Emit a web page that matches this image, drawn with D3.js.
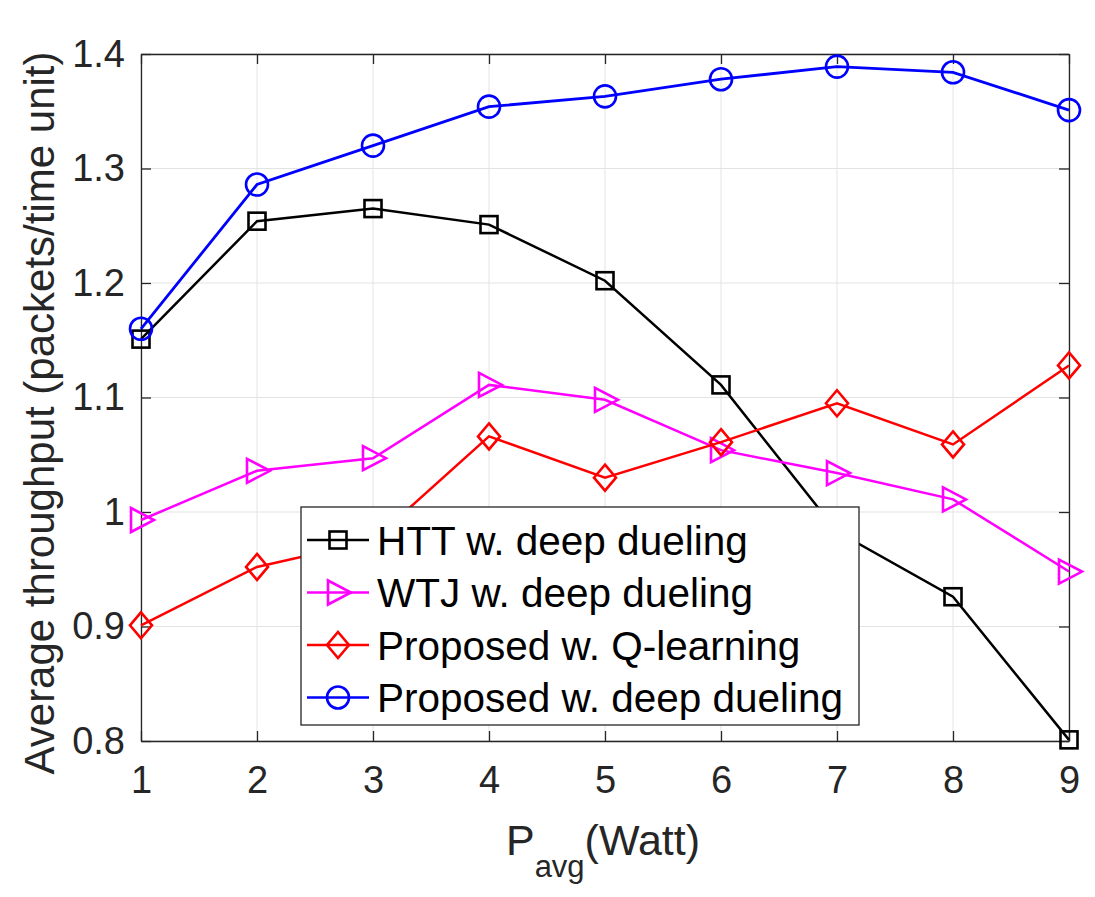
<!DOCTYPE html>
<html>
<head>
<meta charset="utf-8">
<script src="https://cdn.jsdelivr.net/npm/d3@7"></script>
<style>
body { margin: 0; background: #fff; }
text { font-family: "Liberation Sans", Arial, Helvetica, sans-serif; }
</style>
</head>
<body>
<script>
var pAvg = [1, 2, 3, 4, 5, 6, 7, 8, 9];
var httDueling = [1.151, 1.254, 1.265, 1.251, 1.202, 1.111, 0.983, 0.926, 0.801];
var wtjDueling = [0.993, 1.036, 1.047, 1.111, 1.098, 1.054, 1.034, 1.011, 0.948];
var propQ = [0.901, 0.952, 0.975, 1.066, 1.030, 1.061, 1.095, 1.059, 1.128];
var propDueling = [1.160, 1.286, 1.320, 1.354, 1.363, 1.378, 1.389, 1.384, 1.351];
var yTicks = [0.8, 0.9, 1, 1.1, 1.2, 1.3, 1.4];
var xTicks = [1, 2, 3, 4, 5, 6, 7, 8, 9];

var series = [
    {name: "HTT w. deep dueling", values: httDueling, color: "#000000", marker: "square"},
    {name: "WTJ w. deep dueling", values: wtjDueling, color: "#ff00ff", marker: "triangle"},
    {name: "Proposed w. Q-learning", values: propQ, color: "#ff0000", marker: "diamond"},
    {name: "Proposed w. deep dueling", values: propDueling, color: "#0000ff", marker: "circle"}
];

var margin = {top: 54, right: 26, bottom: 156, left: 141};
var W = 1095, H = 897;
var width = W - margin.left - margin.right;
var height = H - margin.top - margin.bottom;

var svg = d3.select("body").append("svg")
    .attr("width", W)
    .attr("height", H);

var g = svg.append("g")
    .attr("transform", "translate(" + margin.left + "," + margin.top + ")");

var x = d3.scaleLinear().domain([1, 9]).range([0, width]);
var y = d3.scaleLinear().domain([0.8, 1.4]).range([height, 0]);

// grid
g.selectAll(".gx").data(xTicks).enter().append("line")
    .attr("x1", d => x(d)).attr("x2", d => x(d))
    .attr("y1", 0).attr("y2", height)
    .attr("stroke", "#e3e3e3").attr("stroke-width", 1);
g.selectAll(".gy").data(yTicks).enter().append("line")
    .attr("x1", 0).attr("x2", width)
    .attr("y1", d => y(d)).attr("y2", d => y(d))
    .attr("stroke", "#e3e3e3").attr("stroke-width", 1);

// axes (ticks inward)
var xAxis = g.append("g").attr("transform", "translate(0," + height + ")")
    .call(d3.axisBottom(x).tickValues(xTicks).tickFormat(d3.format("d")).tickSizeInner(-10).tickSizeOuter(0).tickPadding(25));
var xTop = g.append("g")
    .call(d3.axisTop(x).tickValues(xTicks).tickFormat("").tickSizeInner(-10).tickSizeOuter(0));
var yAxis = g.append("g")
    .call(d3.axisLeft(y).tickValues(yTicks).tickFormat(d => d === 1 ? "1" : d3.format(".1f")(d)).tickSizeInner(-10).tickSizeOuter(0).tickPadding(16));
var yRight = g.append("g").attr("transform", "translate(" + width + ",0)")
    .call(d3.axisRight(y).tickValues(yTicks).tickFormat("").tickSizeInner(-10).tickSizeOuter(0));

[xAxis, xTop, yAxis, yRight].forEach(function (a) {
    a.select(".domain").attr("stroke", "#262626").attr("stroke-width", 1.3);
    a.selectAll(".tick line").attr("stroke", "#262626").attr("stroke-width", 1.3);
    a.selectAll(".tick text").attr("fill", "#262626").style("font-size", "38px");
});
xAxis.selectAll(".tick text").attr("dy", "0.71em");

// markers
function drawMarker(sel, type, color) {
    if (type === "square") {
        sel.append("rect").attr("x", -8.5).attr("y", -8.5).attr("width", 17).attr("height", 17);
    } else if (type === "circle") {
        sel.append("circle").attr("r", 11);
    } else if (type === "triangle") {
        sel.append("path").attr("d", "M-10,-12L13,0L-10,12Z");
    } else if (type === "diamond") {
        sel.append("path").attr("d", "M0,-13L11,0L0,13L-11,0Z");
    }
    sel.selectAll("*").attr("fill", "none").attr("stroke", color).attr("stroke-width", 2.6);
}

var line = d3.line().x((d, i) => x(pAvg[i])).y(d => y(d));

series.forEach(function (s) {
    g.append("path").datum(s.values)
        .attr("d", line)
        .attr("fill", "none")
        .attr("stroke", s.color)
        .attr("stroke-width", s.marker === "circle" ? 2.8 : 2.5);
    g.selectAll(".m-" + s.marker).data(s.values).enter().append("g")
        .attr("transform", (d, i) => "translate(" + x(pAvg[i]) + "," + y(d) + ")")
        .each(function () { drawMarker(d3.select(this), s.marker, s.color); });
});

// legend
var legend = svg.append("g").attr("transform", "translate(301,507)");
legend.append("rect")
    .attr("width", 558).attr("height", 218)
    .attr("fill", "#fff").attr("stroke", "#262626").attr("stroke-width", 1.3);
series.forEach(function (s, i) {
    var row = legend.append("g").attr("transform", "translate(0," + (33 + i * 52.5) + ")");
    row.append("line").attr("x1", 6).attr("x2", 68).attr("y1", 0).attr("y2", 0)
        .attr("stroke", s.color).attr("stroke-width", 2.5);
    var m = row.append("g").attr("transform", "translate(37,0)");
    drawMarker(m, s.marker, s.color);
    row.append("text").attr("x", 76).attr("y", 0).attr("dy", "0.36em")
        .style("font-size", "40.5px").attr("fill", "#000").text(s.name);
});

// axis labels
svg.append("text")
    .attr("transform", "translate(54,413) rotate(-90)")
    .attr("text-anchor", "middle")
    .style("font-size", "42px").attr("fill", "#262626")
    .text("Average throughput (packets/time unit)");

var xl = svg.append("text")
    .attr("x", 603).attr("y", 855)
    .attr("text-anchor", "middle")
    .style("font-size", "43px").attr("fill", "#262626");
xl.append("tspan").text("P");
xl.append("tspan").attr("dy", 22).style("font-size", "31px").text("avg");
xl.append("tspan").attr("dy", -22).text("(Watt)");
</script>
</body>
</html>
